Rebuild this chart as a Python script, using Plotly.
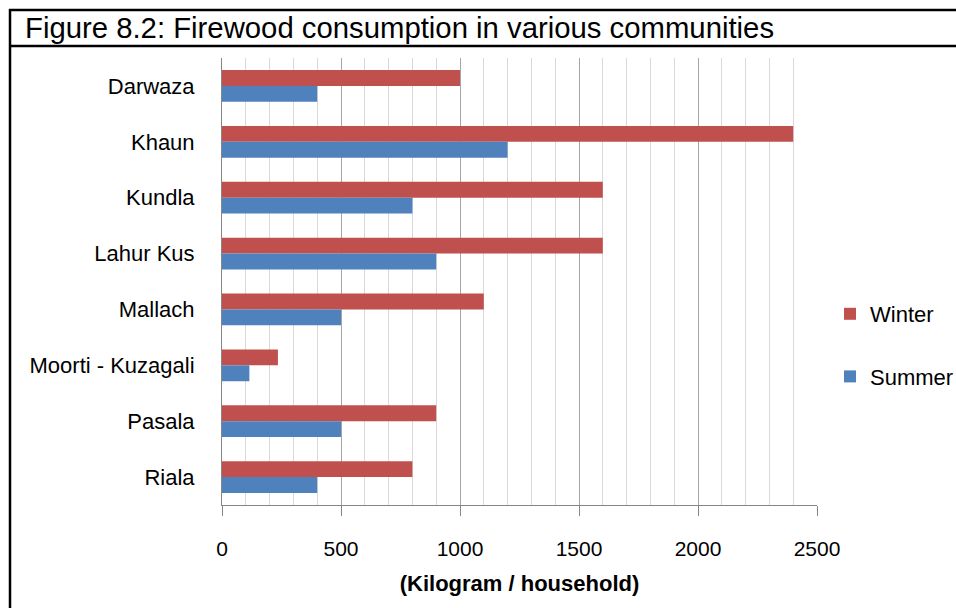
import plotly.graph_objects as go

communities = ["Darwaza", "Khaun", "Kundla", "Lahur Kus", "Mallach",
               "Moorti - Kuzagali", "Pasala", "Riala"]
winter = [1000, 2400, 1600, 1600, 1100, 235, 900, 800]
summer = [400, 1200, 800, 900, 500, 115, 500, 400]
x_ticks = [0, 500, 1000, 1500, 2000, 2500]

W, H = 956, 608
L, R, T, B = 222, 817, 58, 505  # plot area in pixels


def px_x(p):
    return (p - L) / (R - L)


def px_y(p):
    return (B - p) / (B - T)


FONT = "Liberation Sans, Arial, sans-serif"

fig = go.Figure()
fig.add_trace(go.Bar(y=communities, x=winter, name="Winter", orientation="h",
                     marker=dict(color="#C0504D", line=dict(width=0)),
                     legendgroup="w"))
fig.add_trace(go.Bar(y=communities, x=summer, name="Summer", orientation="h",
                     marker=dict(color="#4F81BD", line=dict(width=0)),
                     legendgroup="s"))

line_style = dict(color="black", width=2.5)
shapes = [
    dict(type="line", xref="paper", yref="paper", x0=px_x(10), x1=px_x(10),
         y0=px_y(9), y1=px_y(610), line=line_style),
    dict(type="line", xref="paper", yref="paper", x0=px_x(9), x1=px_x(960),
         y0=px_y(10), y1=px_y(10), line=line_style),
    dict(type="line", xref="paper", yref="paper", x0=px_x(9), x1=px_x(960),
         y0=px_y(46), y1=px_y(46), line=line_style),
]

fig.update_layout(
    width=W, height=H,
    margin=dict(l=L, r=W - R, t=T, b=H - B, pad=0, autoexpand=False),
    paper_bgcolor="white", plot_bgcolor="white",
    barmode="group", bargap=0.43, bargroupgap=0,
    title=dict(text="Figure 8.2: Firewood consumption in various communities",
               font=dict(family=FONT, size=29.3, color="black"),
               xref="container", yref="container", x=25 / W, xanchor="left",
               y=1 - 28 / H, yanchor="middle"),
    shapes=shapes,
    legend=dict(x=px_x(830), xanchor="left", y=px_y(345.5), yanchor="middle",
                font=dict(family=FONT, size=22, color="black"),
                tracegroupgap=31, traceorder="grouped", bgcolor="rgba(0,0,0,0)"),
    xaxis=dict(range=[0, 2500], tickvals=x_ticks, ticktext=[str(v) for v in x_ticks],
               showgrid=True, gridcolor="#a6a6a6", gridwidth=1,
               minor=dict(dtick=100, showgrid=True, gridcolor="#d9d9d9", gridwidth=1),
               ticks="outside", ticklen=10, tickcolor="#868686",
               showline=True, linecolor="#868686", linewidth=1,
               zeroline=False, ticklabelstandoff=15, automargin=False,
               tickfont=dict(family=FONT, size=21, color="black"),
               title=dict(text="<b>(Kilogram / household)</b>", standoff=16,
                          font=dict(family=FONT, size=22, color="black"))),
    yaxis=dict(autorange="reversed", showgrid=False, showline=True,
               linecolor="#868686", linewidth=1, ticks="", ticklabelstandoff=22,
               automargin=False,
               tickfont=dict(family=FONT, size=22, color="black")),
)

fig.write_html("out.html")
